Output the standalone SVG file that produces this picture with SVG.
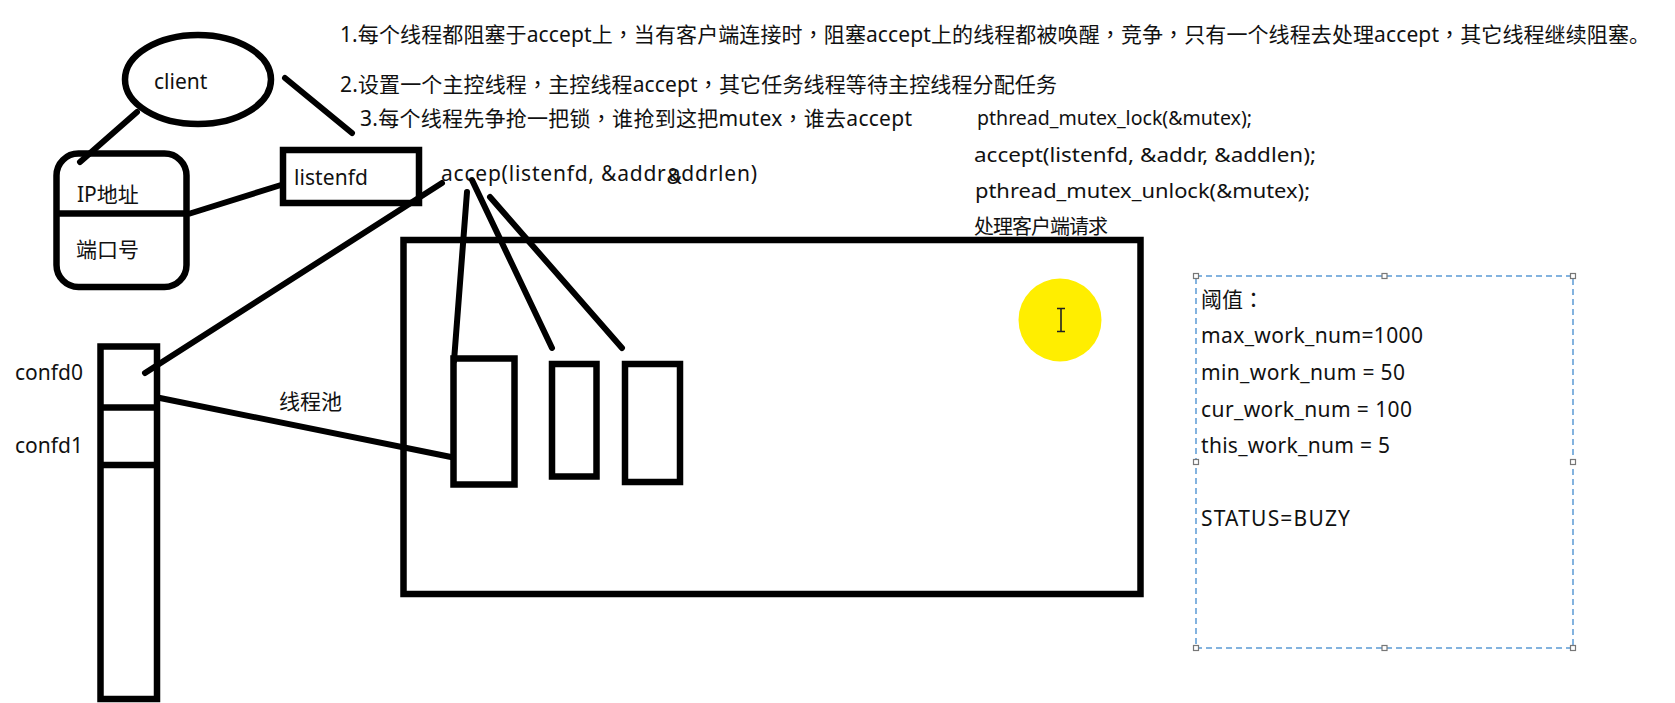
<svg xmlns="http://www.w3.org/2000/svg" width="1675" height="703" viewBox="0 0 1675 703">
<defs>
<style>
text{font-family:"Noto Sans","Noto Sans CJK SC",sans-serif;fill:#111;font-size:21px}
.p{font-family:"Noto Sans CJK TC",sans-serif}
.code{font-size:20px}
.box{fill:none;stroke:#000;stroke-width:6.5}
.wire{fill:none;stroke:#000;stroke-width:6;stroke-linecap:round}
.dash{fill:none;stroke:#5b9bd5;stroke-width:1.5;stroke-dasharray:6 4}
.handle{fill:#fff;stroke:#777;stroke-width:1.2}
</style>
</defs>
<rect width="1675" height="703" fill="#fff"/>

<g id="notes">
<text x="340" y="42" textLength="1310" lengthAdjust="spacing">1.每个线程都阻塞于accept上<tspan class="p" lang="zh-Hant">，</tspan>当有客户端连接时<tspan class="p" lang="zh-Hant">，</tspan>阻塞accept上的线程都被唤醒<tspan class="p" lang="zh-Hant">，</tspan>竞争<tspan class="p" lang="zh-Hant">，</tspan>只有一个线程去处理accept<tspan class="p" lang="zh-Hant">，</tspan>其它线程继续阻塞。</text>
<text x="340" y="92" textLength="717" lengthAdjust="spacing">2.设置一个主控线程<tspan class="p" lang="zh-Hant">，</tspan>主控线程accept<tspan class="p" lang="zh-Hant">，</tspan>其它任务线程等待主控线程分配任务</text>
<text x="360" y="126" textLength="552" lengthAdjust="spacing">3.每个线程先争抢一把锁<tspan class="p" lang="zh-Hant">，</tspan>谁抢到这把mutex<tspan class="p" lang="zh-Hant">，</tspan>谁去accept</text>
</g>

<g id="code">
<text class="code" x="977" y="125" textLength="275" lengthAdjust="spacingAndGlyphs">pthread_mutex_lock(&amp;mutex);</text>
<text class="code" x="974" y="162" textLength="342" lengthAdjust="spacingAndGlyphs">accept(listenfd, &amp;addr, &amp;addlen);</text>
<text class="code" x="975" y="198" textLength="335" lengthAdjust="spacingAndGlyphs">pthread_mutex_unlock(&amp;mutex);</text>
<text class="code" x="974" y="234" textLength="134" lengthAdjust="spacing">处理客户端请求</text>
</g>

<g id="client">
<ellipse cx="198" cy="79.5" rx="73" ry="44.5" class="box"/>
<text x="154" y="89" font-size="22">client</text>
</g>

<g id="ip-port">
<rect x="56.5" y="153.5" width="130" height="133.5" rx="22" class="box"/>
<line x1="56.5" y1="213.5" x2="186.5" y2="213.5" stroke="#000" stroke-width="6.5"/>
<text x="77" y="202">IP地址</text>
<text x="76" y="257">端口号</text>
</g>

<g id="listenfd">
<rect x="283" y="150" width="136" height="53" class="box" stroke-width="7"/>
<text x="294" y="185" textLength="74" lengthAdjust="spacing">listenfd</text>
</g>

<g id="accept-call">
<text x="441" y="181" font-size="22" textLength="316" lengthAdjust="spacing">accep(listenfd, &amp;addr<tspan dy="3">&amp;</tspan><tspan dx="-14" dy="-3">addrlen)</tspan></text>
</g>

<g id="confd-column">
<rect x="100.5" y="346.5" width="56.5" height="352.5" class="box"/>
<line x1="100.5" y1="407.5" x2="157" y2="407.5" stroke="#000" stroke-width="6.5"/>
<line x1="100.5" y1="465" x2="157" y2="465" stroke="#000" stroke-width="6.5"/>
<text x="15" y="380" font-size="21.5">confd0</text>
<text x="15" y="453" font-size="21.5">confd1</text>
</g>

<g id="thread-pool">
<rect x="403.5" y="240" width="737" height="354" class="box" stroke-width="7"/>
<circle cx="1060" cy="320" r="41.5" fill="#ffee00"/>
<path d="M1061 309V331M1057 308.5H1065M1057 331.5H1065" stroke="#222" stroke-width="1.6" fill="none"/>
</g>

<g id="thread-pool-label">
<text x="279" y="409">线程池</text>
</g>

<g id="thread1"><rect x="453.5" y="358.5" width="61" height="126" class="box" stroke-width="6"/></g>
<g id="thread2"><rect x="552" y="364" width="44.5" height="112.5" class="box" stroke-width="6"/></g>
<g id="thread3"><rect x="625" y="364" width="55" height="118" class="box" stroke-width="6"/></g>

<g id="connectors">
<line class="wire" x1="137" y1="112" x2="80" y2="162"/>
<line class="wire" x1="285" y1="78" x2="352" y2="133"/>
<line class="wire" x1="190" y1="213.5" x2="281" y2="185"/>
<line class="wire" x1="442" y1="183" x2="145" y2="373"/>
<line class="wire" x1="160" y1="398" x2="451" y2="457"/>
<line class="wire" x1="467" y1="192" x2="454" y2="361"/>
<line class="wire" x1="472" y1="180" x2="552" y2="348"/>
<line class="wire" x1="490" y1="197" x2="622" y2="348"/>
</g>

<g id="threshold">
<rect x="1196" y="276" width="377" height="372" class="dash"/>
<rect x="1193.5" y="273.5" width="5" height="5" class="handle"/>
<rect x="1382" y="273.5" width="5" height="5" class="handle"/>
<rect x="1570.5" y="273.5" width="5" height="5" class="handle"/>
<rect x="1193.5" y="459.5" width="5" height="5" class="handle"/>
<rect x="1570.5" y="459.5" width="5" height="5" class="handle"/>
<rect x="1193.5" y="645.5" width="5" height="5" class="handle"/>
<rect x="1382" y="645.5" width="5" height="5" class="handle"/>
<rect x="1570.5" y="645.5" width="5" height="5" class="handle"/>
<text x="1201" y="307">阈值<tspan class="p" lang="zh-Hant">：</tspan></text>
<text x="1201" y="343" textLength="222" lengthAdjust="spacing">max_work_num=1000</text>
<text x="1201" y="380" textLength="204" lengthAdjust="spacing">min_work_num = 50</text>
<text x="1201" y="417" textLength="211" lengthAdjust="spacing">cur_work_num = 100</text>
<text x="1201" y="453" textLength="189" lengthAdjust="spacing">this_work_num = 5</text>
<text x="1201" y="526" textLength="149" lengthAdjust="spacing">STATUS=BUZY</text>
</g>
</svg>
